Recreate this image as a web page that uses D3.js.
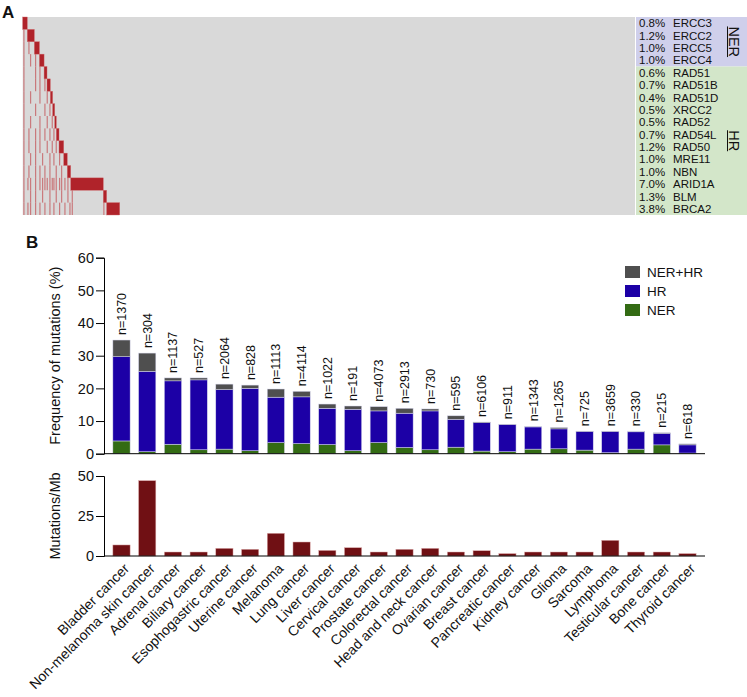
<!DOCTYPE html>
<html>
<head>
<meta charset="utf-8">
<script src="https://cdn.jsdelivr.net/npm/d3@7"></script>
<style>
  body { margin: 0; background: #fff; }
  text { font-family: "Liberation Sans", Arial, sans-serif; fill: #111; }
</style>
</head>
<body>
<div id="chart"></div>
<script>
// ---- Panel A data: oncoprint rows (positions in % of samples)
var genes     = ["ERCC3","ERCC2","ERCC5","ERCC4","RAD51","RAD51B","RAD51D","XRCC2","RAD52","RAD54L","RAD50","MRE11","NBN","ARID1A","BLM","BRCA2"];
var genePct   = ["0.8%","1.2%","1.0%","1.0%","0.6%","0.7%","0.4%","0.5%","0.5%","0.7%","1.2%","1.0%","1.0%","7.0%","1.3%","3.8%"];
var geneGroup = ["NER","NER","NER","NER","HR","HR","HR","HR","HR","HR","HR","HR","HR","HR","HR","HR"];
var blockStart = [0, 0.75, 1.90, 2.73, 3.49, 3.97, 4.51, 4.89, 5.23, 5.49, 5.93, 6.70, 7.28, 7.84, 13.16, 13.71];
var blockEnd   = [0.75, 1.90, 2.73, 3.49, 3.97, 4.51, 4.89, 5.23, 5.49, 5.93, 6.70, 7.28, 7.84, 13.16, 13.71, 15.84];
// co-occurring alterations (thin stripes), % of samples
var coMut = [
  [],
  [0.10],
  [0.10, 0.92],
  [0.10, 1.19, 2.01],
  [0.10, 2.01, 2.72],
  [0.10, 2.01, 2.72, 3.53],
  [0.10, 1.19, 2.72, 3.91],
  [0.10, 2.01, 3.53, 4.35],
  [0.10, 1.19, 2.72, 3.91, 4.73],
  [0.10, 0.92, 2.01, 2.72, 3.53, 4.35, 5.00],
  [0.10, 0.92, 2.01, 2.72, 3.91, 4.73, 5.38],
  [0.10, 1.19, 2.01, 3.15, 4.35, 5.00, 5.93],
  [0.10, 0.92, 2.01, 2.72, 3.53, 4.35, 5.38, 6.26],
  [0.10, 0.76, 1.19, 2.01, 2.72, 3.15, 3.53, 3.91, 4.35, 4.73, 5.00, 5.38, 5.93, 6.26, 6.80, 7.29],
  [0.10, 1.19, 2.01, 3.15, 4.35, 5.38, 6.26, 7.29, 8.00],
  [0.10, 0.76, 1.19, 2.01, 2.72, 3.53, 4.35, 5.00, 5.93, 6.80, 7.62, 8.00, 13.16]
];

// ---- Panel B data
var cancers = ["Bladder cancer","Non-melanoma skin cancer","Adrenal cancer","Biliary cancer","Esophogastric cancer","Uterine cancer","Melanoma","Lung cancer","Liver cancer","Cervical cancer","Prostate cancer","Colorectal cancer","Head and neck cancer","Ovarian cancer","Breast cancer","Pancreatic cancer","Kidney cancer","Glioma","Sarcoma","Lymphoma","Testicular cancer","Bone cancer","Thyroid cancer"];
var nCases  = [1370, 304, 1137, 527, 2064, 828, 1113, 4114, 1022, 191, 4073, 2913, 730, 595, 6106, 911, 1343, 1265, 725, 3659, 330, 215, 618];
var nerPct  = [3.9, 0.6, 2.9, 1.2, 1.4, 0.9, 3.4, 3.1, 2.8, 0.9, 3.4, 1.9, 1.2, 2.0, 0.8, 0.6, 1.4, 1.5, 1.1, 0.3, 1.4, 2.7, 0.2];
var hrPct   = [25.8, 24.6, 19.4, 21.4, 18.2, 19.1, 13.9, 14.3, 11.1, 12.7, 9.7, 10.5, 11.9, 8.5, 8.7, 8.3, 6.8, 6.1, 5.7, 6.5, 5.3, 3.5, 2.5];
var bothPct = [5.1, 5.6, 0.9, 0.6, 1.7, 1.0, 2.5, 1.7, 1.3, 1.0, 1.3, 1.5, 0.6, 1.1, 0.2, 0.1, 0.2, 0.4, 0.1, 0.1, 0.2, 0.2, 0.3];
var tmb     = [6.9, 47.1, 2.5, 2.5, 4.8, 4.2, 14.2, 8.75, 3.5, 5.2, 2.5, 4.2, 4.8, 2.5, 3.3, 1.5, 2.5, 2.5, 2.5, 9.8, 2.5, 2.5, 1.5];
var legendKeys = ["NER+HR", "HR", "NER"];
var freqTicks = [0, 10, 20, 30, 40, 50, 60];
var tmbTicks  = [0, 25, 50];

var colors = {"NER": "#336b14", "HR": "#1c00a6", "NER+HR": "#4f4f4f"};

var width = 747, height = 697;
var svg = d3.select("#chart").append("svg")
  .attr("width", width).attr("height", height);

// ================= Panel A =================
svg.append("text").attr("x", 2).attr("y", 18)
  .style("font-size", "17px").style("font-weight", "bold").text("A");

var heatLeft = 22.7, heatRight = 635, heatTop = 17, heatBottom = 215;
var xSamp = d3.scaleLinear().domain([0, 100]).range([heatLeft, heatRight]);
var yRow = d3.scaleBand().domain(genes).range([heatTop, heatBottom]);

svg.append("rect")
  .attr("x", heatLeft).attr("y", heatTop)
  .attr("width", heatRight - heatLeft).attr("height", heatBottom - heatTop)
  .attr("fill", "#d9d9d9");

// label panel backgrounds + group names
var labLeft = 636;
["NER", "HR"].forEach(function(grp) {
  var idx = genes.filter(function(g, i) { return geneGroup[i] == grp; });
  var y0 = yRow(idx[0]), y1 = yRow(idx[idx.length - 1]) + yRow.bandwidth();
  svg.append("rect")
    .attr("x", labLeft).attr("y", y0)
    .attr("width", width - labLeft).attr("height", y1 - y0)
    .attr("fill", grp == "NER" ? "#cfcfeb" : "#d3e6c9");

  var cy = (y0 + y1) / 2;
  var t = svg.append("text")
    .attr("transform", "translate(729," + cy + ")rotate(90)")
    .attr("text-anchor", "middle")
    .style("font-size", "14.5px")
    .text(grp);
  var len = t.node().getComputedTextLength();
  svg.append("line")
    .attr("x1", 727.5).attr("x2", 727.5)
    .attr("y1", cy - len / 2).attr("y2", cy + len / 2)
    .attr("stroke", "#111").attr("stroke-width", 1);
});

var rows = svg.selectAll(".row").data(genes).enter().append("g").attr("class", "row");

// co-mutation stripes
rows.each(function(g, i) {
  d3.select(this).selectAll(".stripe").data(coMut[i]).enter().append("rect")
    .attr("class", "stripe")
    .attr("x", function(d) { return xSamp(d); })
    .attr("y", yRow(g))
    .attr("width", 1.2)
    .attr("height", yRow.bandwidth())
    .attr("fill", "#c45a5e")
    .attr("opacity", 0.75);
});

// exclusive blocks
rows.append("rect")
  .attr("x", function(d, i) { return xSamp(blockStart[i]); })
  .attr("y", function(d) { return yRow(d); })
  .attr("width", function(d, i) { return xSamp(blockEnd[i]) - xSamp(blockStart[i]); })
  .attr("height", yRow.bandwidth())
  .attr("fill", "#b0232a")
  .attr("stroke", "#d06a6e").attr("stroke-width", 0.4);

rows.append("text")
  .attr("x", 639)
  .attr("y", function(d) { return yRow(d) + yRow.bandwidth() / 2; })
  .attr("dy", "0.36em")
  .style("font-size", "11.5px")
  .text(function(d, i) { return genePct[i]; });

rows.append("text")
  .attr("x", 673)
  .attr("y", function(d) { return yRow(d) + yRow.bandwidth() / 2; })
  .attr("dy", "0.36em")
  .style("font-size", "11.5px")
  .text(function(d) { return d; });

// ================= Panel B =================
svg.append("text").attr("x", 26).attr("y", 248)
  .style("font-size", "17px").style("font-weight", "bold").text("B");

var plotLeft = 104, plotRight = 705;
var xBand = d3.scaleBand().domain(cancers).range([plotLeft, plotRight])
  .paddingInner(0.33).paddingOuter(0.345);

var yFreq = d3.scaleLinear().domain([0, 60]).range([453.7, 257.7]);
var yTmb  = d3.scaleLinear().domain([0, 50]).range([556, 476]);

// stacked bars
var table = cancers.map(function(c, i) {
  return {cancer: c, n: nCases[i], "NER": nerPct[i], "HR": hrPct[i], "NER+HR": bothPct[i]};
});
var stack = d3.stack().keys(["NER", "HR", "NER+HR"])(table);

svg.append("g").selectAll("g").data(stack).enter().append("g")
  .attr("fill", function(d) { return colors[d.key]; })
  .selectAll("rect").data(function(d) { return d; }).enter().append("rect")
  .attr("x", function(d) { return xBand(d.data.cancer); })
  .attr("y", function(d) { return yFreq(d[1]); })
  .attr("width", xBand.bandwidth())
  .attr("height", function(d) { return yFreq(d[0]) - yFreq(d[1]); })
  .attr("stroke", "#d8d8ee").attr("stroke-width", 0.5);

// n labels
svg.append("g").selectAll("text").data(table).enter().append("text")
  .attr("transform", function(d) {
    var total = d["NER"] + d["HR"] + d["NER+HR"];
    return "translate(" + (xBand(d.cancer) + xBand.bandwidth() / 2) + "," + (yFreq(total) - 5) + ")rotate(-90)";
  })
  .attr("dy", "0.35em")
  .style("font-size", "12.5px")
  .text(function(d) { return "n=" + d.n; });

// axes
var yAxisF = d3.axisLeft(yFreq).tickValues(freqTicks).tickSizeOuter(0).tickSize(8).tickPadding(2);
var gYF = svg.append("g").attr("transform", "translate(" + plotLeft + ",0)").call(yAxisF);
gYF.selectAll("text").style("font-size", "14.5px").style("font-family", "'Liberation Sans', Arial, sans-serif").attr("fill", "#111");
svg.append("line")
  .attr("x1", plotLeft).attr("x2", plotRight)
  .attr("y1", yFreq(0)).attr("y2", yFreq(0))
  .attr("stroke", "#000");

svg.append("text")
  .attr("transform", "translate(60," + ((yFreq(0) + yFreq(60)) / 2) + ")rotate(-90)")
  .attr("text-anchor", "middle")
  .style("font-size", "14.5px")
  .text("Frequency of mutations (%)");

// legend
var legend = svg.append("g").selectAll("g").data(legendKeys).enter().append("g")
  .attr("transform", function(d, i) { return "translate(625," + (266 + i * 19) + ")"; });
legend.append("rect").attr("width", 15).attr("height", 12)
  .attr("fill", function(d) { return colors[d]; });
legend.append("text").attr("x", 22).attr("y", 6).attr("dy", "0.36em")
  .style("font-size", "13.5px").text(function(d) { return d; });

// TMB bars
svg.append("g").selectAll("rect").data(cancers).enter().append("rect")
  .attr("x", function(d) { return xBand(d); })
  .attr("y", function(d, i) { return yTmb(tmb[i]); })
  .attr("width", xBand.bandwidth())
  .attr("height", function(d, i) { return yTmb(0) - yTmb(tmb[i]); })
  .attr("fill", "#701014")
  .attr("stroke", "#e0b0b0").attr("stroke-width", 0.5);

var yAxisT = d3.axisLeft(yTmb).tickValues(tmbTicks).tickSizeOuter(0).tickSize(8).tickPadding(2);
var gYT = svg.append("g").attr("transform", "translate(" + plotLeft + ",0)").call(yAxisT);
gYT.selectAll("text").style("font-size", "14.5px").style("font-family", "'Liberation Sans', Arial, sans-serif").attr("fill", "#111");
svg.append("line")
  .attr("x1", plotLeft).attr("x2", plotRight)
  .attr("y1", yTmb(0)).attr("y2", yTmb(0))
  .attr("stroke", "#000");

svg.append("text")
  .attr("transform", "translate(60," + ((yTmb(0) + yTmb(50)) / 2) + ")rotate(-90)")
  .attr("text-anchor", "middle")
  .style("font-size", "14.5px")
  .text("Mutations/Mb");

// category labels
svg.append("g").selectAll("text").data(cancers).enter().append("text")
  .attr("transform", function(d) {
    return "translate(" + (xBand(d) + xBand.bandwidth() / 2 + 5) + "," + (yTmb(0) + 10) + ")rotate(-45)";
  })
  .attr("text-anchor", "end")
  .attr("dy", "0.35em")
  .style("font-size", "14px")
  .text(function(d) { return d; });
</script>
</body>
</html>
